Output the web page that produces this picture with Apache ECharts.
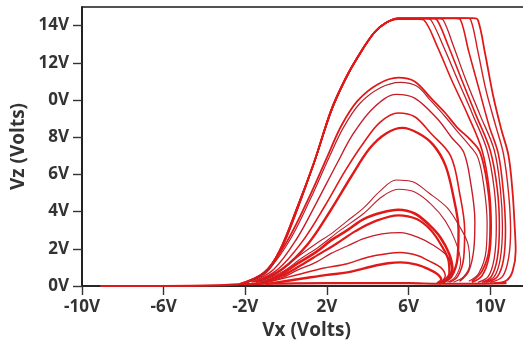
<!DOCTYPE html>
<html>
<head>
<meta charset="utf-8">
<script src="https://cdn.jsdelivr.net/npm/echarts@6/dist/echarts.min.js"></script>
<style>
html,body{margin:0;padding:0;background:#fff;}
#c{width:523px;height:342px;}
</style>
</head>
<body>
<div id="c"></div>
<script>
// Axis ticks and labels
const xTicks = [-10, -6, -2, 2, 6, 10];
const xTickLabels = ['-10V', '-6V', '-2V', '2V', '6V', '10V'];
const yTicks = [0, 2, 4, 6, 8, 10, 12, 14];
const yTickLabels = ['0V', '2V', '4V', '6V', '8V', '0V', '12V', '14V'];
const xTitle = 'Vx (Volts)';
const yTitle = 'Vz (Volts)';

// Trajectory pieces [Vx, Vz]
const baseline = [[-9.1,0],[-6,0],[-4,0.02],[-3,0.05],[-2.2,0.1],[-1,0.12],[2,0.15],[6,0.15],[7.5,0.12],[9,0.12],[10.8,0.15]];

const top1 = [[-2.3,0.1],[-1.1,0.7],[-0.3,1.9],[0.55,4.2],[1.35,6.6],[2.2,9.4],[2.9,11.1],[3.5,12.3],[4.3,13.6],[4.9,14.15],[5.5,14.35],[6.5,14.35],[6.75,14.3],[7.4,12.9],[8.1,11.1],[8.9,9.2],[9.6,7.3],[9.95,5.2],[10.05,3.2],[9.95,1.6],[9.6,0.55],[9.1,0.2]];
const top2 = [[-2.2,0.1],[-1.0,0.75],[-0.25,2.0],[0.6,4.3],[1.4,6.7],[2.25,9.5],[2.95,11.2],[3.55,12.35],[4.35,13.65],[4.95,14.2],[5.6,14.38],[6.85,14.38],[7.1,14.3],[7.7,12.9],[8.4,11.1],[9.15,9.2],[9.85,7.3],[10.2,5.2],[10.3,3.2],[10.2,1.5],[9.9,0.5],[9.4,0.2]];
const top3 = [[-2.25,0.1],[-1.05,0.7],[-0.3,1.95],[0.55,4.25],[1.38,6.65],[2.2,9.45],[2.9,11.15],[3.5,12.3],[4.3,13.6],[4.9,14.15],[5.5,14.38],[7.15,14.38],[7.4,14.3],[7.95,12.9],[8.6,11.1],[9.3,9.2],[10.0,7.3],[10.35,5.2],[10.45,3.2],[10.35,1.5],[10.05,0.5],[9.6,0.2]];
const top4 = [[-2.2,0.1],[-1.0,0.7],[-0.25,1.95],[0.6,4.25],[1.4,6.7],[2.25,9.5],[2.95,11.2],[3.55,12.35],[4.35,13.65],[4.95,14.2],[5.6,14.38],[7.45,14.38],[7.7,14.3],[8.2,12.9],[8.8,11.1],[9.5,9.2],[10.2,7.3],[10.5,5.2],[10.6,3.2],[10.5,1.5],[10.2,0.5],[9.7,0.2]];
const top5 = [[-2.25,0.1],[-1.05,0.7],[-0.3,1.95],[0.55,4.25],[1.38,6.65],[2.2,9.45],[2.9,11.15],[3.5,12.3],[4.3,13.6],[4.9,14.15],[5.5,14.38],[8.3,14.38],[8.55,14.3],[8.95,12.6],[9.45,10.6],[9.95,8.6],[10.4,7.1],[10.65,5.0],[10.75,3.0],[10.65,1.4],[10.35,0.5],[9.8,0.2]];
const top6 = [[-2.2,0.1],[-1.0,0.7],[-0.25,1.95],[0.6,4.25],[1.4,6.7],[2.25,9.5],[2.95,11.2],[3.55,12.35],[4.35,13.65],[4.95,14.2],[5.6,14.4],[8.8,14.4],[9.05,14.3],[9.4,12.6],[9.8,10.5],[10.3,8.5],[10.65,7.1],[10.9,5.0],[11.0,3.0],[10.9,1.5],[10.6,0.5],[10.0,0.2]];
const top7 = [[-2.3,0.1],[-1.1,0.7],[-0.3,1.9],[0.55,4.2],[1.35,6.6],[2.2,9.4],[2.9,11.1],[3.5,12.3],[4.3,13.6],[4.9,14.15],[5.5,14.4],[9.15,14.4],[9.4,14.3],[9.75,12.5],[10.15,10.2],[10.55,8.4],[10.9,7.0],[11.1,5.0],[11.2,3.2],[11.25,1.9],[11.1,0.8],[10.8,0.3],[10.2,0.15]];

const arc112 = [[-1.9,0.2],[-0.9,0.9],[0.1,2.5],[1.1,4.7],[2.0,6.9],[2.7,8.6],[3.5,9.95],[4.5,10.85],[5.5,11.2],[6.3,11.0],[7.1,10.1],[7.8,9.3],[8.4,8.5],[9.0,7.9],[9.5,7.2],[9.85,5.5],[10.0,3.5],[9.95,2.0],[9.6,0.8],[9.1,0.25]];
const arc110 = [[-1.85,0.2],[-0.85,0.9],[0.2,2.5],[1.2,4.7],[2.1,6.9],[2.8,8.5],[3.6,9.8],[4.6,10.65],[5.6,10.95],[6.4,10.75],[7.1,9.95],[7.8,9.1],[8.4,8.3],[8.95,7.6],[9.4,6.9],[9.7,5.3],[9.85,3.4],[9.8,1.9],[9.45,0.7],[8.95,0.25]];
const arc103 = [[-1.7,0.2],[-0.6,0.9],[0.5,2.5],[1.5,4.5],[2.5,6.6],[3.3,8.2],[4.3,9.6],[5.4,10.3],[6.3,10.1],[7.4,9.0],[8.1,8.0],[8.7,7.2],[9.05,5.5],[9.25,3.5],[9.2,2.0],[8.95,0.8],[8.5,0.25]];
const arc93 = [[-1.6,0.2],[-0.4,0.9],[0.8,2.4],[1.9,4.3],[2.9,6.2],[3.8,7.7],[4.6,8.8],[5.5,9.3],[6.3,9.1],[7.1,8.2],[8.06,7.0],[8.5,5.0],[8.75,3.0],[8.7,1.5],[8.4,0.5],[8.0,0.2]];
const arc85 = [[-1.5,0.2],[-0.2,0.9],[1.1,2.3],[2.2,4.1],[3.2,5.9],[4.1,7.4],[4.9,8.2],[5.7,8.5],[6.5,8.2],[7.2,7.6],[7.8,6.5],[8.2,4.8],[8.45,3.0],[8.4,1.5],[8.1,0.5],[7.7,0.2]];
const arc57 = [[-1.4,0.2],[-0.3,0.8],[0.55,1.55],[1.5,2.3],[2.2,2.8],[3.0,3.5],[3.8,4.2],[4.6,5.1],[5.4,5.7],[6.2,5.6],[7.0,5.0],[7.9,4.2],[8.5,3.2],[8.9,2.3],[9.0,1.2],[8.7,0.5],[8.2,0.2]];
const arc53 = [[-1.4,0.2],[-0.2,0.75],[0.7,1.45],[1.6,2.1],[2.6,2.95],[3.8,3.9],[4.7,4.8],[5.5,5.2],[6.3,5.05],[7.1,4.4],[7.8,3.5],[8.3,2.4],[8.55,1.3],[8.3,0.5],[7.9,0.2]];
const arc41 = [[-1.3,0.15],[-0.3,0.6],[0.55,1.2],[1.5,1.85],[2.2,2.45],[3.0,3.0],[3.8,3.6],[4.7,3.95],[5.5,4.1],[6.3,3.9],[7.0,3.3],[7.57,2.6],[8.0,1.7],[8.15,0.9],[7.9,0.35],[7.5,0.15]];
const arc38 = [[-1.3,0.15],[-0.2,0.55],[0.7,1.1],[1.6,1.7],[2.5,2.3],[3.4,2.95],[4.4,3.5],[5.5,3.8],[6.4,3.6],[7.1,3.0],[7.6,2.2],[7.95,1.4],[8.0,0.7],[7.7,0.25]];
const arc29 = [[-1.2,0.15],[-0.2,0.45],[0.55,0.85],[1.5,1.3],[2.2,1.75],[3.0,2.15],[3.8,2.55],[4.7,2.8],[5.6,2.87],[6.5,2.6],[7.2,2.2],[7.9,1.6],[8.1,0.9],[7.9,0.35],[7.5,0.15]];
const arc18 = [[-1.1,0.15],[0.55,0.6],[1.8,0.95],[3.0,1.2],[4.0,1.55],[5.0,1.75],[5.6,1.8],[6.4,1.65],[7.0,1.35],[7.57,1.0],[7.8,0.55],[7.6,0.2]];
const arc13 = [[-1.0,0.1],[0.8,0.4],[2.0,0.6],[3.0,0.73],[4.2,1.05],[5.0,1.22],[5.6,1.27],[6.4,1.15],[7.0,0.9],[7.4,0.65],[7.6,0.35],[7.4,0.15]];

const pieces = [
  {d: baseline, w: 2.2, c: '#d81a1a'},
  {d: top1, w: 1.6, c: '#e01818'},
  {d: top2, w: 1.3, c: '#c41c26'},
  {d: top3, w: 1.6, c: '#e01818'},
  {d: top4, w: 1.3, c: '#c41c26'},
  {d: top5, w: 1.6, c: '#e01818'},
  {d: top6, w: 1.4, c: '#d41c22'},
  {d: top7, w: 1.8, c: '#e01818'},
  {d: arc112, w: 1.8, c: '#e01818'},
  {d: arc110, w: 1.2, c: '#b8202c'},
  {d: arc103, w: 1.4, c: '#c81c26'},
  {d: arc93, w: 1.6, c: '#e01818'},
  {d: arc85, w: 2.4, c: '#e01818'},
  {d: arc57, w: 1.1, c: '#b8202c'},
  {d: arc53, w: 1.1, c: '#c02030'},
  {d: arc41, w: 2.6, c: '#e01818'},
  {d: arc38, w: 2.2, c: '#e01818'},
  {d: arc29, w: 1.3, c: '#c81c26'},
  {d: arc18, w: 1.5, c: '#d81a1a'},
  {d: arc13, w: 2.4, c: '#e01818'}
];

const chart = echarts.init(document.getElementById('c'), null, {renderer: 'canvas'});
const labelFont = {fontFamily: 'Open Sans', fontWeight: 'bold', fontSize: 17, color: '#333'};
chart.setOption({
  animation: false,
  backgroundColor: '#fff',
  grid: {left: 82, top: 7, right: -8, bottom: 56, show: true, borderColor: '#1a1a1a', borderWidth: 1.6,
         backgroundColor: 'transparent', containLabel: false, outerBoundsMode: 'none'},
  xAxis: {
    type: 'value', min: -10, max: 12,
    splitLine: {show: false},
    axisLine: {onZero: false, lineStyle: {color: '#1a1a1a', width: 1.6}},
    axisTick: {show: true, length: 9, lineStyle: {color: '#333', width: 1.4}, customValues: xTicks},
    axisLabel: Object.assign({margin: 13, customValues: xTicks,
      formatter: v => { const i = xTicks.indexOf(v); return i >= 0 ? xTickLabels[i] : ''; }}, labelFont),
    name: xTitle, nameLocation: 'middle', nameGap: 35,
    nameTextStyle: {fontFamily: 'Open Sans', fontWeight: 'bold', fontSize: 19, color: '#333'}
  },
  yAxis: {
    type: 'value', min: 0, max: 15,
    splitLine: {show: false},
    axisLine: {onZero: false, lineStyle: {color: '#1a1a1a', width: 1.6}},
    axisTick: {show: true, length: 9, lineStyle: {color: '#333', width: 1.4}, customValues: yTicks},
    axisLabel: Object.assign({margin: 13, customValues: yTicks,
      formatter: v => { const i = yTicks.indexOf(v); return i >= 0 ? yTickLabels[i] : ''; }}, labelFont),
    name: yTitle, nameLocation: 'middle', nameGap: 49, nameRotate: 90,
    nameTextStyle: {fontFamily: 'Open Sans', fontWeight: 'bold', fontSize: 19, color: '#333'}
  },
  series: pieces.map((p, i) => ({
    type: 'line', name: 's' + i, data: p.d, showSymbol: false, smooth: 0.35,
    lineStyle: {width: p.w, color: p.c}, z: 2, silent: true
  }))
});
</script>
</body>
</html>
